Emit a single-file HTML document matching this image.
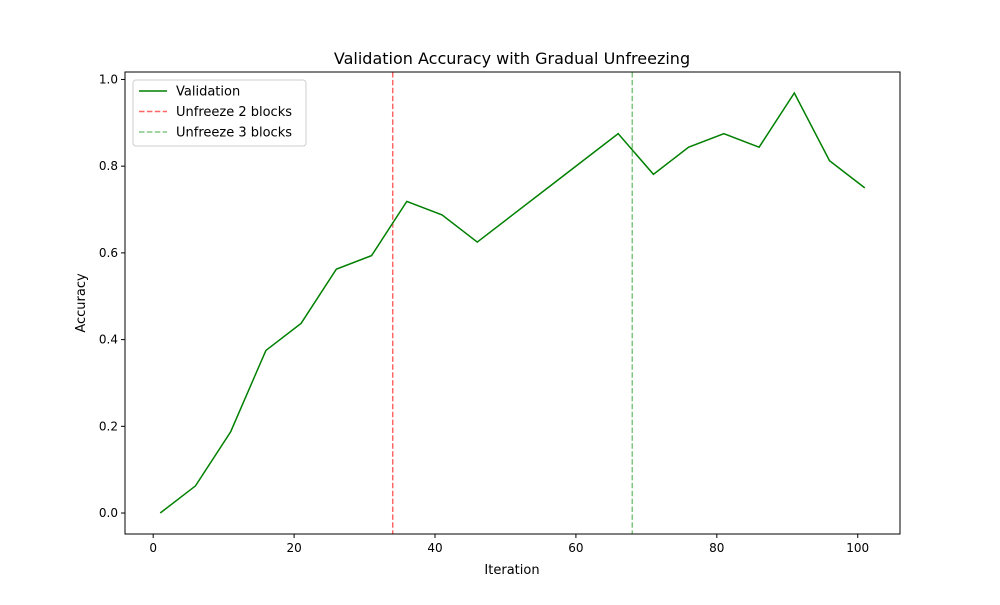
<!DOCTYPE html>
<html><head><meta charset="utf-8"><style>
body{margin:0;background:#fff;}
svg text{font-family:"DejaVu Sans","Liberation Sans",sans-serif;}
</style></head><body>
<svg id="chart" width="1000" height="600" xmlns="http://www.w3.org/2000/svg">
<rect width="1000" height="600" fill="#fff"/>
<text x="512" y="64" font-size="16" text-anchor="middle">Validation Accuracy with Gradual Unfreezing</text>
<text x="512" y="574" font-size="13" text-anchor="middle">Iteration</text>
<text transform="translate(85,303) rotate(-90)" font-size="13" text-anchor="middle">Accuracy</text>
<g id="plot"></g>
</svg>
<script>
const iterations=[1,6,11,16,21,26,31,36,41,46,51,56,61,66,71,76,81,86,91,96,101];
const accuracy=[0,0.0625,0.1875,0.375,0.4375,0.5625,0.59375,0.71875,0.6875,0.625,0.6875,0.75,0.8125,0.875,0.78125,0.84375,0.875,0.84375,0.96875,0.8125,0.75];
const unfreezeIters=[34,68];
const xTicks=[0,20,40,60,80,100];
const yTicks=[0,0.2,0.4,0.6,0.8,1.0];
const L=125,R=900,T=72,B=534;
const xmin=-4,xmax=106,ymin=-0.0484,ymax=1.0172;
const sx=v=>L+(v-xmin)/(xmax-xmin)*(R-L);
const sy=v=>B-(v-ymin)/(ymax-ymin)*(B-T);
const NS="http://www.w3.org/2000/svg";
const g=document.getElementById('plot');
function mk(t,a,p){const e=document.createElementNS(NS,t);for(const k in a)e.setAttribute(k,a[k]);(p||g).appendChild(e);return e;}
xTicks.forEach(v=>{
 const l=mk('line',{x1:sx(v),x2:sx(v),y1:B,y2:B+4,stroke:'#000'});
 
 
 const t=mk('text',{x:sx(v),y:B+18,'font-size':12,'text-anchor':'middle'});t.textContent=v;
 
 
});
yTicks.forEach(v=>{
 const l=mk('line',{x1:L-4,x2:L,y1:sy(v),y2:sy(v),stroke:'#000'});
 
 
 const t=mk('text',{x:L-7,y:sy(v)+4,'font-size':12,'text-anchor':'end'});t.textContent=v.toFixed(1);
 
 
});
const colors=['#ff6666','#66bb66'];
unfreezeIters.forEach((v,i)=>{
 const l=mk('line',{x1:sx(v),x2:sx(v),y1:T,y2:B,stroke:i?'#2ca02c':'#ff0000','stroke-opacity':0.6,'stroke-width':1.5,'stroke-dasharray':'5.5,2.4'});
 
 
});
const line=mk('polyline',{points:iterations.map((x,i)=>sx(x)+','+sy(accuracy[i])).join(' '),fill:'none',stroke:'#008000','stroke-width':1.5});


const frame=mk('rect',{x:L,y:T,width:R-L,height:B-T,fill:'none',stroke:'#000','stroke-width':1});


// legend
const lg=mk('g',{});


mk('rect',{x:133,y:80,width:173,height:66,rx:3,fill:'#fff','fill-opacity':0.8,stroke:'#ccc'},lg);
const entries=[['Validation','#008000',1,''],['Unfreeze 2 blocks','#ff0000',0.6,'5.5,2.4'],['Unfreeze 3 blocks','#2ca02c',0.6,'5.5,2.4']];
entries.forEach((e,i)=>{
 const y=91+i*20.5;
 const s=mk('line',{x1:139,x2:167,y1:y,y2:y,stroke:e[1],'stroke-opacity':e[2],'stroke-width':1.5,'stroke-dasharray':e[3]||'none'},lg);
 
 
 const t=mk('text',{x:176,y:y+4.5,'font-size':13},lg);t.textContent=e[0];
 
 
});
</script>
</body></html>
